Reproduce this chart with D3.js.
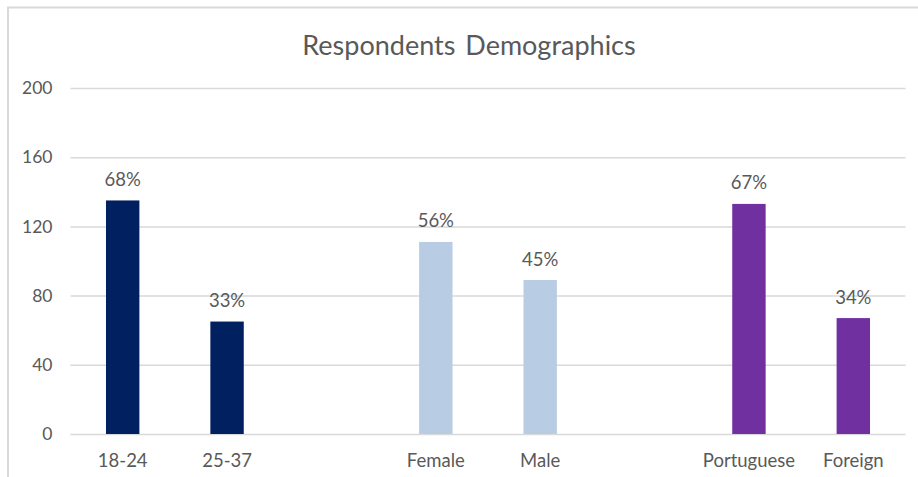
<!DOCTYPE html>
<html>
<head>
<meta charset="utf-8">
<script src="https://cdn.jsdelivr.net/npm/d3@7"></script>
<style>
  html, body { margin: 0; padding: 0; background: #fff; }
  svg { display: block; }
  text { font-family: Lato, "Open Sans", sans-serif; fill: #595959; }
</style>
</head>
<body>
<svg id="chart" width="918" height="477"></svg>
<script>
const title = "Respondents Demographics";
const categories = ["18-24", "25-37", "", "Female", "Male", "", "Portuguese", "Foreign"];
const values = [135, 65, null, 111, 89, null, 133, 67];
const percentLabels = ["68%", "33%", "", "56%", "45%", "", "67%", "34%"];
const groupOfBar = [0, 0, null, 1, 1, null, 2, 2];
const groupColors = ["#002060", "#B8CCE4", "#7030A0"];
const yTicks = [0, 40, 80, 120, 160, 200];

const svg = d3.select("#chart");
const W = 918, H = 477;
const plot = { left: 70.5, right: 905.5, top: 88, bottom: 434 };

// chart frame
svg.append("path")
  .attr("d", `M8,${H + 2} L8,7.5 L${W + 2},7.5`)
  .attr("fill", "none")
  .attr("stroke", "#d9d9d9")
  .attr("stroke-width", 2);

const idx = categories.map((_, i) => i);
const x = d3.scaleBand()
  .domain(idx)
  .range([plot.left, plot.right])
  .paddingInner(0.68)
  .paddingOuter(0.34);

const y = d3.scaleLinear().domain([0, 200]).range([plot.bottom, plot.top]);

// gridlines
const yAxis = d3.axisLeft(y)
  .tickValues(yTicks)
  .tickSize(-(plot.right - plot.left))
  .tickPadding(18)
  .tickFormat(d3.format("d"));

const gy = svg.append("g")
  .attr("transform", `translate(${plot.left},0)`)
  .call(yAxis);
gy.select(".domain").remove();
gy.selectAll(".tick line").attr("stroke", "#d9d9d9").attr("stroke-width", 1.5);
gy.selectAll(".tick text")
  .attr("fill", "#595959")
  .style("font-size", "17.5px")
  .style("font-family", "Lato, 'Open Sans', sans-serif");

// x axis labels
const xAxis = d3.axisBottom(x)
  .tickSize(0)
  .tickPadding(0)
  .tickFormat(i => categories[i]);
const gx = svg.append("g")
  .attr("transform", `translate(0,${plot.bottom})`)
  .call(xAxis);
gx.select(".domain").remove();
gx.selectAll(".tick text")
  .attr("fill", "#595959")
  .attr("dy", null)
  .attr("y", 33)
  .style("font-size", "18.5px")
  .style("font-family", "Lato, 'Open Sans', sans-serif");

// bars
const barIdx = idx.filter(i => values[i] !== null);
svg.append("g").selectAll("rect")
  .data(barIdx)
  .join("rect")
  .attr("x", i => x(i))
  .attr("width", x.bandwidth())
  .attr("y", i => y(values[i]))
  .attr("height", i => y(0) - y(values[i]))
  .attr("fill", i => groupColors[groupOfBar[i]]);

// value labels
svg.append("g").selectAll("text")
  .data(barIdx)
  .join("text")
  .attr("x", i => x(i) + x.bandwidth() / 2)
  .attr("y", i => y(values[i]) - 14.5)
  .attr("text-anchor", "middle")
  .style("font-size", "18.5px")
  .text(i => percentLabels[i]);

// title
svg.append("text")
  .attr("x", 469)
  .attr("y", 55)
  .attr("text-anchor", "middle")
  .style("font-size", "27px")
  .style("word-spacing", "3px")
  .text(title);
</script>
</body>
</html>
